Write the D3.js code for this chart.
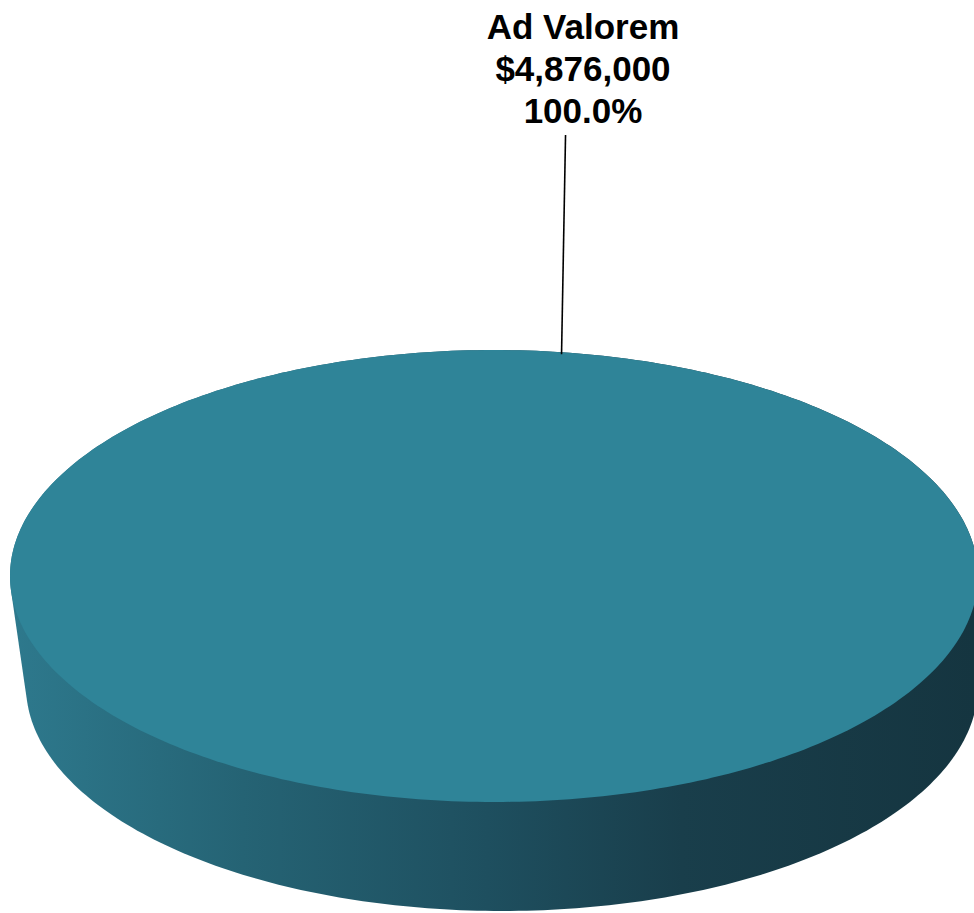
<!DOCTYPE html>
<html lang="en">
<head>
    <meta charset="UTF-8">
    <script src="https://d3js.org/d3.v7.min.js"></script>
    <style>
        html, body {
            margin: 0;
            padding: 0;
            background: #ffffff;
        }
        body {
            font-family: "Liberation Sans", Arial, sans-serif;
        }
        .label {
            font-size: 35px;
            font-weight: bold;
            fill: #000000;
            text-anchor: middle;
        }
        .leader {
            stroke: #000000;
            stroke-width: 1.6px;
        }
    </style>
</head>
<body>
    <svg id="chart"></svg>
    <script>
        // data
        const categories = ["Ad Valorem"];
        const values = [4876000];
        const colors = ["#2f8498"];

        const width = 974;
        const height = 913;

        // top face ellipse and the lower rim (a bit narrower, perspective)
        const topRim = { cx: 494, cy: 576, rx: 484, ry: 226 };
        const bottomRim = { cx: 502, cy: 686, rx: 476, ry: 225 };

        const svg = d3.select("#chart")
            .attr("width", width)
            .attr("height", height);

        const defs = svg.append("defs");
        const grad = defs.append("linearGradient")
            .attr("id", "sideGrad")
            .attr("gradientUnits", "userSpaceOnUse")
            .attr("x1", 0).attr("x2", width)
            .attr("y1", 0).attr("y2", 0);
        grad.append("stop").attr("offset", "0%").attr("stop-color", "#2e7a8e");
        grad.append("stop").attr("offset", "25%").attr("stop-color", "#256374");
        grad.append("stop").attr("offset", "50%").attr("stop-color", "#1e4f5f");
        grad.append("stop").attr("offset", "70%").attr("stop-color", "#193e4b");
        grad.append("stop").attr("offset", "100%").attr("stop-color", "#153540");

        const pie = d3.pie().sort(null).value(d => d)(values);
        const total = d3.sum(values);

        // d3 pie angle: 0 at 12 o'clock, clockwise
        function pt(e, a) {
            return [e.cx + e.rx * Math.sin(a), e.cy - e.ry * Math.cos(a)];
        }

        function arcPoints(e, a0, a1) {
            const n = Math.max(2, Math.ceil((a1 - a0) / (Math.PI / 180)));
            return d3.range(n + 1).map(i => pt(e, a0 + (a1 - a0) * i / n));
        }

        const line = d3.line().curve(d3.curveLinearClosed);

        // side wall: hull of top and bottom rims
        const allPts = arcPoints(topRim, 0, 2 * Math.PI).concat(arcPoints(bottomRim, 0, 2 * Math.PI));
        svg.append("path")
            .attr("d", line(d3.polygonHull(allPts)))
            .attr("fill", "url(#sideGrad)");

        // top face, one path per slice
        svg.selectAll(".slice")
            .data(pie)
            .enter()
            .append("path")
            .attr("class", "slice")
            .attr("d", d => {
                const pts = arcPoints(topRim, d.startAngle, d.endAngle);
                if (d.endAngle - d.startAngle < 2 * Math.PI - 1e-6) pts.push([topRim.cx, topRim.cy]);
                return line(pts);
            })
            .attr("fill", (d, i) => colors[i]);

        // label with leader line
        const fmtMoney = d3.format("$,.0f");
        const fmtPct = d3.format(".1%");
        const labelX = 583;
        const labelY = 39;
        const lineH = 42;
        const anchorAngle = 0.14; // where the leader touches the rim

        pie.forEach((d, i) => {
            const [ax, ay] = pt(topRim, anchorAngle);
            svg.append("line")
                .attr("class", "leader")
                .attr("x1", ax + 4).attr("y1", labelY + 2 * lineH + 12)
                .attr("x2", ax).attr("y2", ay + 2);

            const txt = svg.append("text")
                .attr("class", "label")
                .attr("x", labelX)
                .attr("y", labelY);
            [categories[i], fmtMoney(values[i]), fmtPct(values[i] / total)].forEach((s, k) => {
                txt.append("tspan")
                    .attr("x", labelX)
                    .attr("dy", k === 0 ? 0 : lineH)
                    .text(s);
            });
        });
    </script>
</body>
</html>
